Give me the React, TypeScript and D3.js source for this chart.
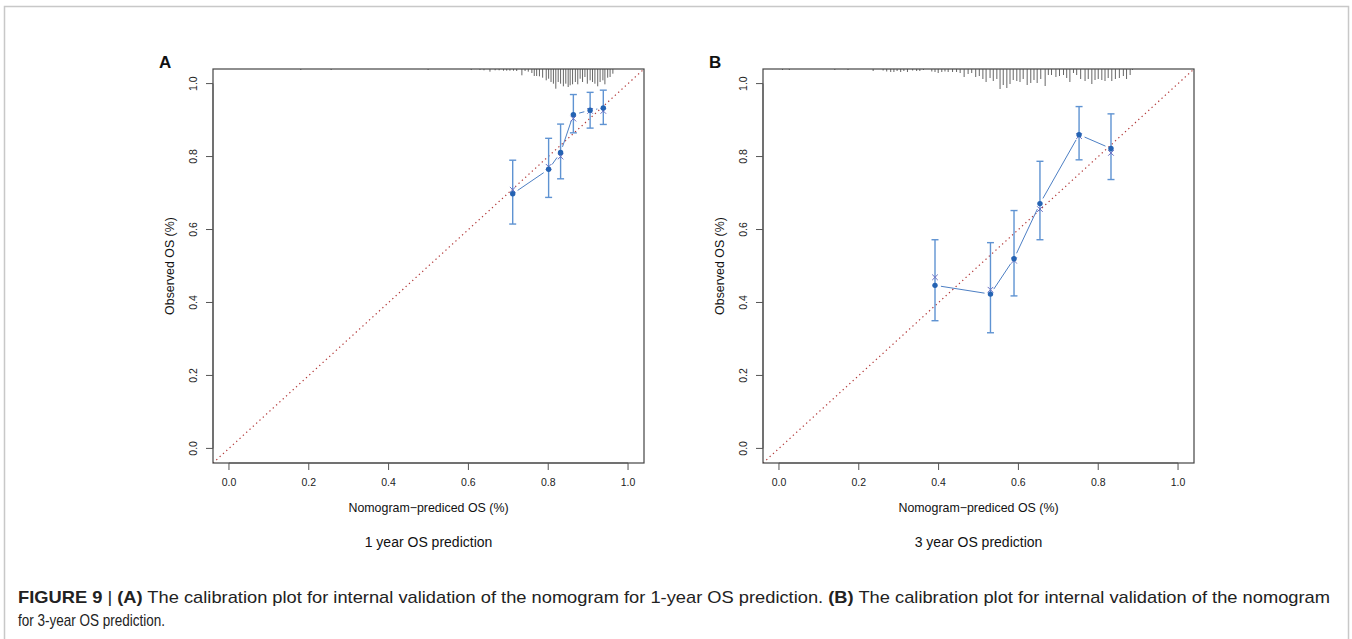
import React from "react";
import * as d3 from "d3";

// ---------- data ----------
const xTicks = [0, 0.2, 0.4, 0.6, 0.8, 1.0];
const yTicks = [0, 0.2, 0.4, 0.6, 0.8, 1.0];

// Panel A: 1-year
const predA = [0.711, 0.801, 0.831, 0.863, 0.905, 0.938];
const obsA = [0.698, 0.765, 0.811, 0.915, 0.927, 0.933];
const corrA = [0.709, 0.772, 0.800, 0.904, 0.925, 0.925];
const lowA = [0.615, 0.688, 0.739, 0.865, 0.878, 0.888];
const highA = [0.79, 0.85, 0.889, 0.97, 0.976, 0.982];

// Panel B: 3-year
const predB = [0.391, 0.53, 0.589, 0.654, 0.752, 0.832];
const obsB = [0.447, 0.423, 0.52, 0.671, 0.86, 0.822];
const corrB = [0.469, 0.435, 0.515, 0.656, 0.856, 0.81];
const lowB = [0.35, 0.317, 0.418, 0.572, 0.791, 0.737];
const highB = [0.572, 0.564, 0.652, 0.787, 0.937, 0.917];

// rug (histogram spikes of predicted values)
const rugPredA = [0.18, 0.256, 0.499, 0.607, 0.629, 0.639, 0.654, 0.667, 0.677, 0.688, 0.696, 0.704, 0.713, 0.721, 0.734, 0.742, 0.75, 0.759, 0.765, 0.771, 0.778, 0.786, 0.795, 0.801, 0.807, 0.813, 0.819, 0.825, 0.831, 0.838, 0.844, 0.85, 0.855, 0.861, 0.868, 0.874, 0.88, 0.886, 0.892, 0.898, 0.905, 0.911, 0.917, 0.924, 0.93, 0.937, 0.942, 0.949, 0.955, 0.962];
const rugCountA = [1, 1, 1, 1, 1, 1.3, 2.7, 1.3, 1.3, 1.7, 1.7, 1.7, 1.7, 2, 6.3, 2, 2.7, 4, 7, 7, 7.3, 8.7, 11.3, 9.7, 13, 14.7, 19.7, 13, 14.7, 17.3, 14.7, 18, 16.3, 15.3, 13, 15.3, 9.7, 13, 8, 14.7, 11.3, 13, 14.7, 17.3, 13, 11.3, 15.3, 8.7, 8, 4.7];

const rugPredB = [0.009, 0.026, 0.14, 0.173, 0.236, 0.261, 0.27, 0.28, 0.288, 0.296, 0.305, 0.313, 0.322, 0.335, 0.345, 0.353, 0.362, 0.383, 0.391, 0.399, 0.408, 0.416, 0.424, 0.435, 0.445, 0.454, 0.464, 0.474, 0.483, 0.493, 0.502, 0.511, 0.519, 0.529, 0.537, 0.546, 0.554, 0.562, 0.571, 0.579, 0.587, 0.596, 0.604, 0.612, 0.622, 0.631, 0.639, 0.647, 0.656, 0.667, 0.675, 0.683, 0.694, 0.703, 0.713, 0.721, 0.729, 0.738, 0.746, 0.756, 0.767, 0.775, 0.784, 0.792, 0.8, 0.809, 0.817, 0.825, 0.834, 0.843, 0.853, 0.863, 0.871, 0.88, 0.886];
const rugCountB = [1, 1, 1, 1, 2, 1.5, 2.5, 3, 3, 2, 3, 2, 3, 1.5, 2, 2, 1, 2.5, 3, 4, 3, 2.5, 3, 3, 3, 4, 8, 5, 4, 8, 7, 10, 13, 9, 12, 10, 20, 16, 19, 15, 11, 12, 13, 10, 16, 14, 11, 14, 10, 17, 6, 6, 8, 7, 6, 9, 13, 4, 6, 10, 12, 10, 15, 11, 10, 11, 12, 9, 12, 10, 9, 7, 10, 6, 1];

const panels = [
  { label: "A", sub: "1 year OS prediction", pred: predA, obs: obsA, corr: corrA, low: lowA, high: highA, rugX: rugPredA, rugN: rugCountA },
  { label: "B", sub: "3 year OS prediction", pred: predB, obs: obsB, corr: corrB, low: lowB, high: highB, rugX: rugPredB, rugN: rugCountB },
];

const W = 1352;
const H = 639;
const font = "'Liberation Sans', Arial, Helvetica, sans-serif";

function Panel({ p, dx }: { p: typeof panels[number]; dx: number }) {
  const left = 213 + dx;
  const right = 644 + dx;
  const top = 69;
  const bottom = 463;
  const x = d3.scaleLinear().domain([-0.04, 1.04]).range([left, right]);
  const y = d3.scaleLinear().domain([-0.04, 1.04]).range([bottom, top]);
  const rugLen = d3.scaleLinear().domain([0, 20]).range([0, 20]);
  const fmt = d3.format(".1f");
  const errCol = "#5f93d2";
  const lineCol = "#4d7fc4";
  const dotCol = "#2563b3";
  const xCol = "#6b6fc2";

  // gapped line segments (type = "b")
  const gap = 6;
  const segs: { x1: number; y1: number; x2: number; y2: number }[] = [];
  for (let i = 0; i < p.pred.length - 1; i++) {
    const ax = x(p.pred[i]), ay = y(p.obs[i]);
    const bx = x(p.pred[i + 1]), by = y(p.obs[i + 1]);
    const L = Math.hypot(bx - ax, by - ay);
    if (L <= 2 * gap) continue;
    const ux = (bx - ax) / L, uy = (by - ay) / L;
    segs.push({ x1: ax + ux * gap, y1: ay + uy * gap, x2: bx - ux * gap, y2: by - uy * gap });
  }
  const cx = (left + right) / 2;
  const midY = (y(0) + y(1)) / 2;
  const clipId = `clip-${p.label}`;

  return (
    <g>
      <defs>
        <clipPath id={clipId}>
          <rect x={left} y={top} width={right - left} height={bottom - top} />
        </clipPath>
      </defs>
      {/* panel letter */}
      <text x={left - 54} y={68} fontFamily={font} fontWeight="bold" fontSize={17} fill="#111">{p.label}</text>

      {/* rug */}
      <g stroke="#555" strokeWidth={0.9}>
        {p.rugX.map((v, i) => (
          <line key={i} x1={x(v)} x2={x(v)} y1={top} y2={top + Math.max(1, rugLen(p.rugN[i]))} />
        ))}
      </g>

      {/* diagonal */}
      <line x1={x(-0.04)} y1={y(-0.04)} x2={x(1.04)} y2={y(1.04)} stroke="#b33a3a" strokeWidth={1.2}
        strokeDasharray="1.3 3.2" clipPath={`url(#${clipId})`} />

      {/* error bars */}
      <g stroke={errCol} strokeWidth={1.4}>
        {p.pred.map((v, i) => (
          <g key={i}>
            <line x1={x(v)} x2={x(v)} y1={y(p.low[i])} y2={y(p.high[i])} />
            <line x1={x(v) - 3.5} x2={x(v) + 3.5} y1={y(p.low[i])} y2={y(p.low[i])} />
            <line x1={x(v) - 3.5} x2={x(v) + 3.5} y1={y(p.high[i])} y2={y(p.high[i])} />
          </g>
        ))}
      </g>

      {/* connecting line */}
      <g stroke={lineCol} strokeWidth={1}>
        {segs.map((s, i) => <line key={i} {...s} />)}
      </g>

      {/* bias corrected x marks */}
      <g stroke={xCol} strokeWidth={1}>
        {p.pred.map((v, i) => {
          const px = x(v), py = y(p.corr[i]);
          return (
            <g key={i}>
              <line x1={px - 2.8} y1={py - 2.8} x2={px + 2.8} y2={py + 2.8} />
              <line x1={px - 2.8} y1={py + 2.8} x2={px + 2.8} y2={py - 2.8} />
            </g>
          );
        })}
      </g>

      {/* observed dots */}
      {p.pred.map((v, i) => (
        <circle key={i} cx={x(v)} cy={y(p.obs[i])} r={2.7} fill={dotCol} />
      ))}

      {/* box */}
      <rect x={left} y={top} width={right - left} height={bottom - top} fill="none" stroke="#444" strokeWidth={1.2} />

      {/* x axis */}
      <g stroke="#555" strokeWidth={1}>
        <line x1={x(0)} x2={x(1)} y1={bottom} y2={bottom} />
        {xTicks.map((t) => <line key={t} x1={x(t)} x2={x(t)} y1={bottom} y2={bottom + 7} />)}
      </g>
      {xTicks.map((t) => (
        <text key={t} x={x(t)} y={486} textAnchor="middle" fontFamily={font} fontSize={10.5} fill="#222">{fmt(t)}</text>
      ))}
      <text x={cx} y={512} textAnchor="middle" fontFamily={font} fontSize={12.4} fill="#111">Nomogram−prediced OS (%)</text>
      <text x={cx} y={547} textAnchor="middle" fontFamily={font} fontSize={14} fill="#111">{p.sub}</text>

      {/* y axis */}
      <g stroke="#555" strokeWidth={1}>
        <line x1={left} x2={left} y1={y(0)} y2={y(1)} />
        {yTicks.map((t) => <line key={t} x1={left - 7} x2={left} y1={y(t)} y2={y(t)} />)}
      </g>
      {yTicks.map((t) => (
        <text key={t} transform={`translate(${left - 16},${y(t)}) rotate(-90)`} textAnchor="middle"
          fontFamily={font} fontSize={10.5} fill="#222">{fmt(t)}</text>
      ))}
      <text transform={`translate(${left - 39},${midY}) rotate(-90)`} textAnchor="middle" fontFamily={font} fontSize={12.4} fill="#111">Observed OS (%)</text>
    </g>
  );
}

export default function App() {
  const capFont = "'Liberation Sans Narrow', 'Arial Narrow', 'Liberation Sans', Arial, sans-serif";
  return (
    <svg width={W} height={H} style={{ position: "absolute", left: 0, top: 0, background: "#fff" }}>
      <rect x={0} y={0} width={W} height={H} fill="#fff" />
      <rect x={4.5} y={6.5} width={1344} height={700} fill="none" stroke="#c8c8c8" strokeWidth={1.5} />
      {panels.map((p, i) => <Panel key={p.label} p={p} dx={i * 550} />)}
      <text x={18} y={603} fontFamily={capFont} fontSize={17} fill="#222" textLength={1312} lengthAdjust="spacingAndGlyphs">
        <tspan fontWeight="bold">FIGURE 9</tspan>
        <tspan> | </tspan>
        <tspan fontWeight="bold">(A)</tspan>
        <tspan> The calibration plot for internal validation of the nomogram for 1-year OS prediction. </tspan>
        <tspan fontWeight="bold">(B)</tspan>
        <tspan> The calibration plot for internal validation of the nomogram</tspan>
      </text>
      <text x={18} y={626} fontFamily={capFont} fontSize={17} fill="#222" textLength={147} lengthAdjust="spacingAndGlyphs">for 3-year OS prediction.</text>
    </svg>
  );
}
